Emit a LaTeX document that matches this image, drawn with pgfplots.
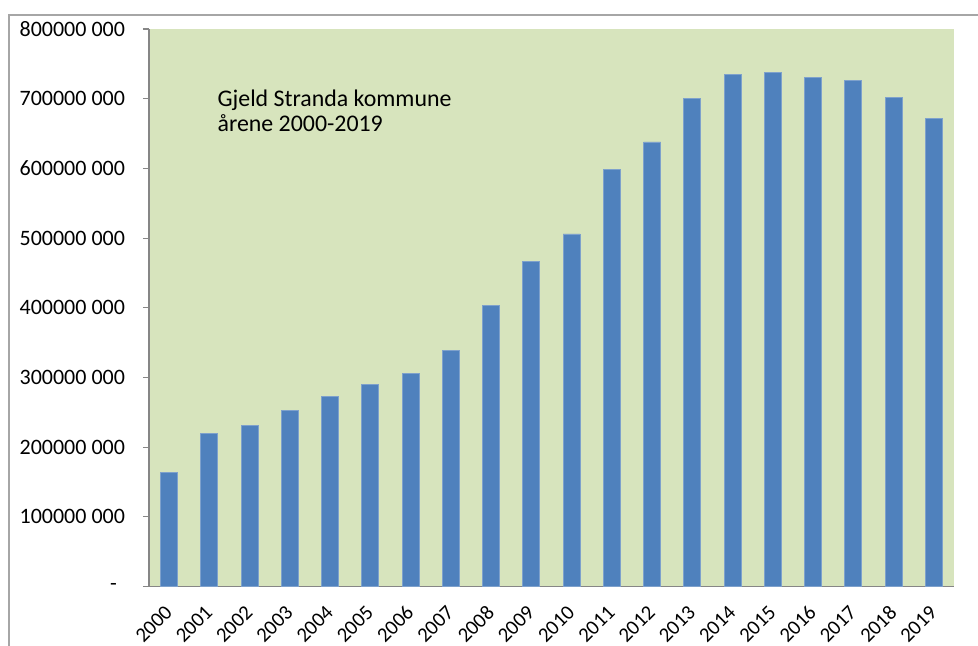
\documentclass[border=0pt]{standalone}
\usepackage{pgfplots}
\pgfplotsset{compat=1.18}
\usepackage{fontspec}
\setmainfont{Carlito}

\definecolor{plotbg}{HTML}{D7E4BD}
\definecolor{barblue}{HTML}{4F81BD}
\definecolor{baredge}{HTML}{7EA1CC}
\definecolor{axisgray}{HTML}{868686}
\definecolor{framegray}{HTML}{A6A6A6}

\begin{document}
\begin{tikzpicture}
\useasboundingbox (0,0) rectangle (733.5pt,484.5pt);
% frame of the chart area (cropped at right and bottom)
\draw[framegray, line width=1.1pt] (6.75pt,0) -- (6.75pt,473.25pt) -- (733.5pt,473.25pt);

\begin{axis}[
    at={(111.75pt,44.55pt)}, anchor=south west,
    scale only axis,
    width=603.75pt, height=418.2pt,
    axis background/.style={fill=plotbg},
    axis x line*=bottom, axis y line*=left,
    axis line style={axisgray, line width=0.8pt},
    every tick/.style={axisgray, line width=0.8pt},
    tick align=outside,
    major tick length=4.5pt,
    minor tick length=5pt,
    xmin=-0.5, xmax=19.5,
    ymin=0, ymax=800000000,
    scaled y ticks=false,
    xtick={0,...,19},
    xticklabels={2000,2001,2002,2003,2004,2005,2006,2007,2008,2009,2010,2011,2012,2013,2014,2015,2016,2017,2018,2019},
    x tick style={draw=none},
    minor xtick={-0.5,0.5,...,19.5},
    xticklabel style={xshift=2pt, yshift=-10pt, rotate=45, anchor=east, font=\fontsize{15.5}{17}\selectfont},
    ytick={0,100000000,200000000,300000000,400000000,500000000,600000000,700000000,800000000},
    yticklabels={{-\hspace*{6pt}},100000 000,200000 000,300000 000,400000 000,500000 000,600000 000,700000 000,800000 000},
    yticklabel style={anchor=east, font=\fontsize{16.5}{18}\selectfont, xshift=-10pt},
    ybar, bar width=12.75pt,
]
\addplot[fill=barblue, draw=baredge, line width=0.6pt] coordinates {
    (0,164000000) (1,220000000) (2,231000000) (3,253000000) (4,273000000)
    (5,290000000) (6,306000000) (7,339000000) (8,403000000) (9,466000000)
    (10,506000000) (11,598000000) (12,638000000) (13,700000000) (14,735000000)
    (15,738000000) (16,730000000) (17,726000000) (18,702000000) (19,672000000)
};
\end{axis}

\node[anchor=base west, inner sep=0pt, font=\fontsize{17.9}{21}\selectfont] at (163pt,404.5pt) {Gjeld Stranda kommune};
\node[anchor=base west, inner sep=0pt, font=\fontsize{17.9}{21}\selectfont] at (163pt,385.7pt) {årene 2000-2019};
\end{tikzpicture}
\end{document}
